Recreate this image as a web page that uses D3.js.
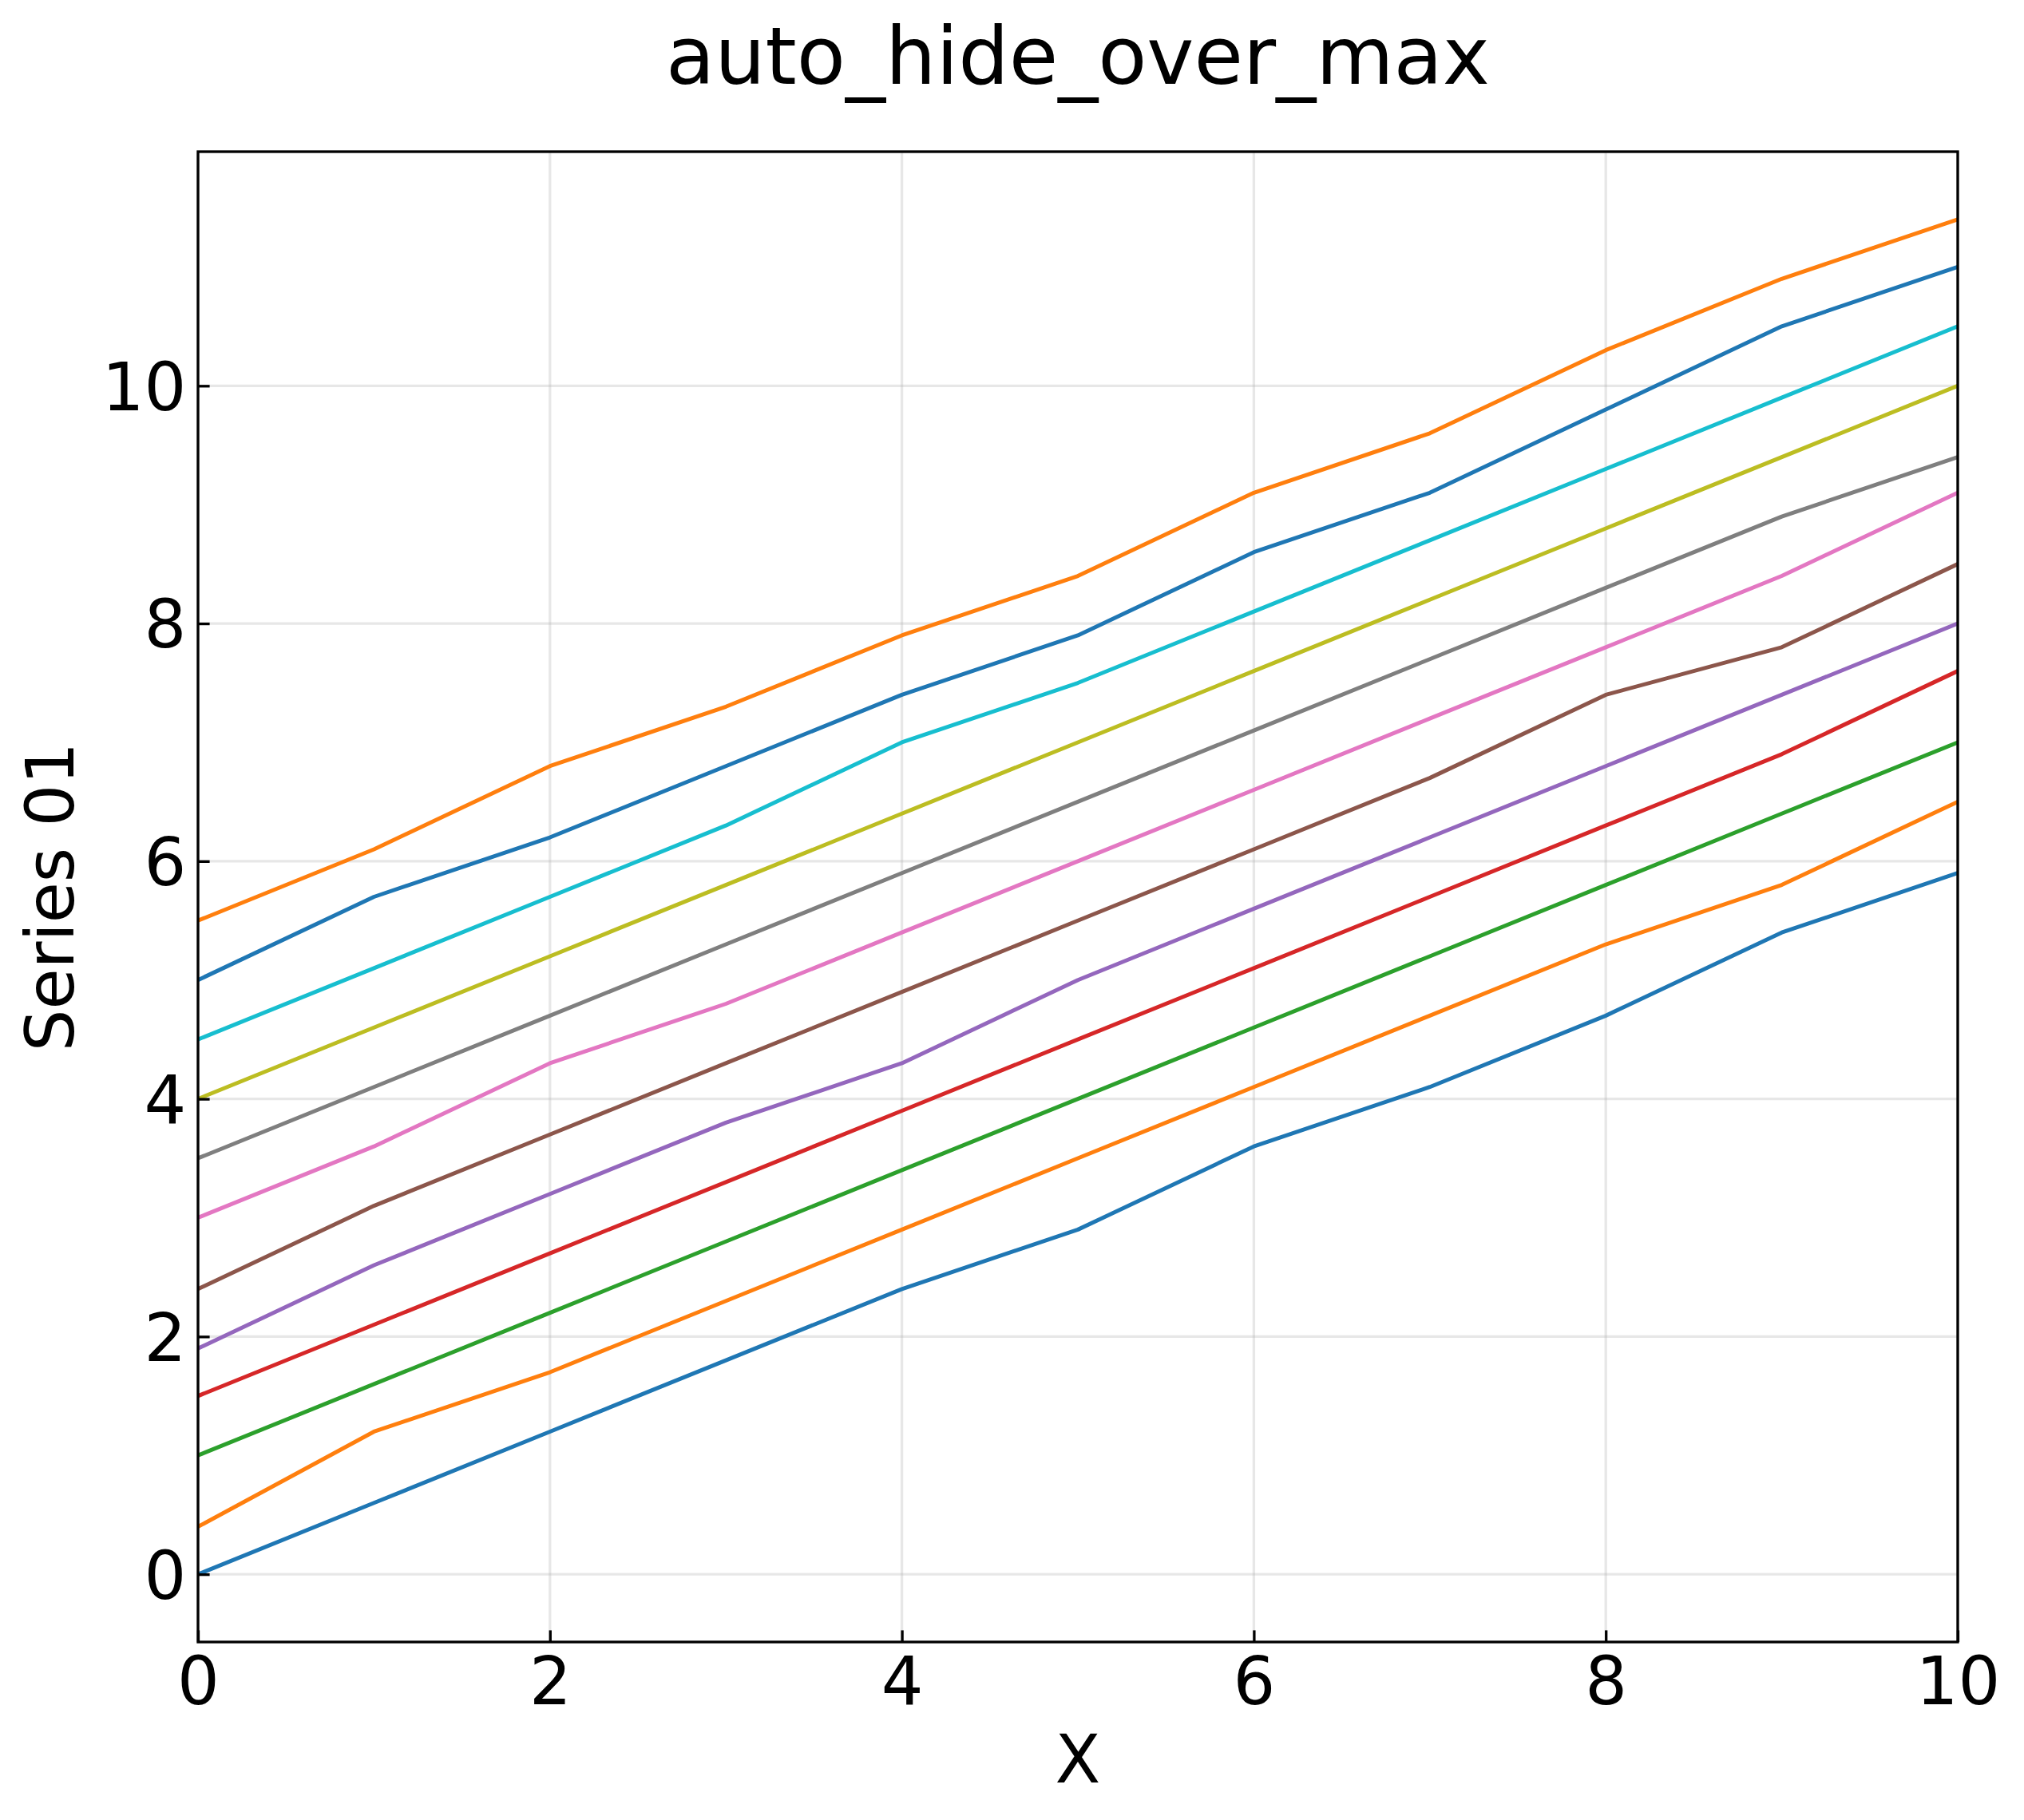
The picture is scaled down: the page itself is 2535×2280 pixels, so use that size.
<!DOCTYPE html>
<html>
<head>
<meta charset="utf-8">
<script src="https://cdn.jsdelivr.net/npm/d3@7"></script>
<style>
  html, body { margin: 0; padding: 0; background: #fff; }
  svg { display: block; }
  text { font-family: "DejaVu Sans", sans-serif; fill: #000; }
</style>
</head>
<body>
<div id="chart"></div>
<script>
// ---- data ----
const xValues = [0, 1, 2, 3, 4, 5, 6, 7, 8, 9, 10];
const series00 = [0.0, 0.6, 1.2, 1.8, 2.4, 2.9, 3.6, 4.1, 4.7, 5.4, 5.9];
const series01 = [0.4, 1.2, 1.7, 2.3, 2.9, 3.5, 4.1, 4.7, 5.3, 5.8, 6.5];
const series02 = [1.0, 1.6, 2.2, 2.8, 3.4, 4.0, 4.6, 5.2, 5.8, 6.4, 7.0];
const series03 = [1.5, 2.1, 2.7, 3.3, 3.9, 4.5, 5.1, 5.7, 6.3, 6.9, 7.6];
const series04 = [1.9, 2.6, 3.2, 3.8, 4.3, 5.0, 5.6, 6.2, 6.8, 7.4, 8.0];
const series05 = [2.4, 3.1, 3.7, 4.3, 4.9, 5.5, 6.1, 6.7, 7.4, 7.8, 8.5];
const series06 = [3.0, 3.6, 4.3, 4.8, 5.4, 6.0, 6.6, 7.2, 7.8, 8.4, 9.1];
const series07 = [3.5, 4.1, 4.7, 5.3, 5.9, 6.5, 7.1, 7.7, 8.3, 8.9, 9.4];
const series08 = [4.0, 4.6, 5.2, 5.8, 6.4, 7.0, 7.6, 8.2, 8.8, 9.4, 10.0];
const series09 = [4.5, 5.1, 5.7, 6.3, 7.0, 7.5, 8.1, 8.7, 9.3, 9.9, 10.5];
const series10 = [5.0, 5.7, 6.2, 6.8, 7.4, 7.9, 8.6, 9.1, 9.8, 10.5, 11.0];
const series11 = [5.5, 6.1, 6.8, 7.3, 7.9, 8.4, 9.1, 9.6, 10.3, 10.9, 11.4];
const allSeries = [series00, series01, series02, series03, series04, series05,
                   series06, series07, series08, series09, series10, series11];
const seriesColors = ["#1f77b4", "#ff7f0e", "#2ca02c", "#d62728", "#9467bd",
                      "#8c564b", "#e377c2", "#7f7f7f", "#bcbd22", "#17becf",
                      "#1f77b4", "#ff7f0e"];
const xTicks = [0, 2, 4, 6, 8, 10];
const yTicks = [0, 2, 4, 6, 8, 10];
const titleText = "auto_hide_over_max";
const xLabelText = "X";
const yLabelText = "Series 01";

// ---- layout ----
const W = 2535, H = 2280;
const plot = { left: 248, right: 2452, top: 190, bottom: 2057 };

const svg = d3.select("#chart").append("svg")
  .attr("width", W).attr("height", H)
  .attr("viewBox", `0 0 ${W} ${H}`);

svg.append("rect").attr("width", W).attr("height", H).attr("fill", "#fff");

const allVals = allSeries.flat();
const yMin = d3.min(allVals), yMax = d3.max(allVals);
const yPad = (yMax - yMin) * 0.05;

const x = d3.scaleLinear().domain([0, 10]).range([plot.left, plot.right]);
const y = d3.scaleLinear().domain([yMin - yPad, yMax + yPad]).range([plot.bottom, plot.top]);

// grid
const grid = svg.append("g");
grid.selectAll("line.gx").data(xTicks).join("line")
  .attr("x1", d => x(d)).attr("x2", d => x(d))
  .attr("y1", plot.top).attr("y2", plot.bottom)
  .attr("stroke", "#b0b0b0").attr("stroke-opacity", 0.3).attr("stroke-width", 3.3);
grid.selectAll("line.gy").data(yTicks).join("line")
  .attr("x1", plot.left).attr("x2", plot.right)
  .attr("y1", d => y(d)).attr("y2", d => y(d))
  .attr("stroke", "#b0b0b0").attr("stroke-opacity", 0.3).attr("stroke-width", 3.3);

// clip
svg.append("clipPath").attr("id", "clip").append("rect")
  .attr("x", plot.left).attr("y", plot.top)
  .attr("width", plot.right - plot.left).attr("height", plot.bottom - plot.top);

const line = d3.line().x((d, i) => x(xValues[i])).y(d => y(d));
svg.append("g").attr("clip-path", "url(#clip)")
  .selectAll("path").data(allSeries).join("path")
  .attr("d", d => line(d))
  .attr("fill", "none")
  .attr("stroke", (d, i) => seriesColors[i])
  .attr("stroke-width", 5)
  .attr("stroke-linejoin", "round")
  .attr("stroke-linecap", "butt");

// axes (ticks inward)
const tickLen = 14.6, tickPad = 14.6, fs = 83;
const xAxis = svg.append("g").attr("transform", `translate(0,${plot.bottom})`)
  .call(d3.axisBottom(x).tickValues(xTicks).tickSize(-tickLen).tickPadding(0).tickFormat(d3.format("d")));
xAxis.select(".domain").remove();
xAxis.selectAll(".tick line").attr("stroke", "#000").attr("stroke-width", 3.3);
xAxis.selectAll(".tick text")
  .attr("y", 78).attr("dy", null)
  .style("font-size", fs + "px").style("font-family", "DejaVu Sans, sans-serif");

const yAxis = svg.append("g").attr("transform", `translate(${plot.left},0)`)
  .call(d3.axisLeft(y).tickValues(yTicks).tickSize(-tickLen).tickPadding(tickPad).tickFormat(d3.format("d")));
yAxis.select(".domain").remove();
yAxis.selectAll(".tick line").attr("stroke", "#000").attr("stroke-width", 3.3);
yAxis.selectAll(".tick text")
  .attr("x", -tickPad).attr("dy", "0.36em")
  .style("font-size", fs + "px").style("font-family", "DejaVu Sans, sans-serif");

// spines
svg.append("rect")
  .attr("x", plot.left).attr("y", plot.top)
  .attr("width", plot.right - plot.left).attr("height", plot.bottom - plot.top)
  .attr("fill", "none").attr("stroke", "#000").attr("stroke-width", 3.3);

// title & labels
svg.append("text").attr("x", (plot.left + plot.right) / 2).attr("y", 105)
  .attr("text-anchor", "middle").style("font-size", "100px").text(titleText);
svg.append("text").attr("x", (plot.left + plot.right) / 2).attr("y", 2233)
  .attr("text-anchor", "middle").style("font-size", fs + "px").text(xLabelText);
svg.append("text")
  .attr("transform", `translate(92,${(plot.top + plot.bottom) / 2}) rotate(-90)`)
  .attr("text-anchor", "middle").style("font-size", fs + "px").text(yLabelText);
</script>
</body>
</html>
